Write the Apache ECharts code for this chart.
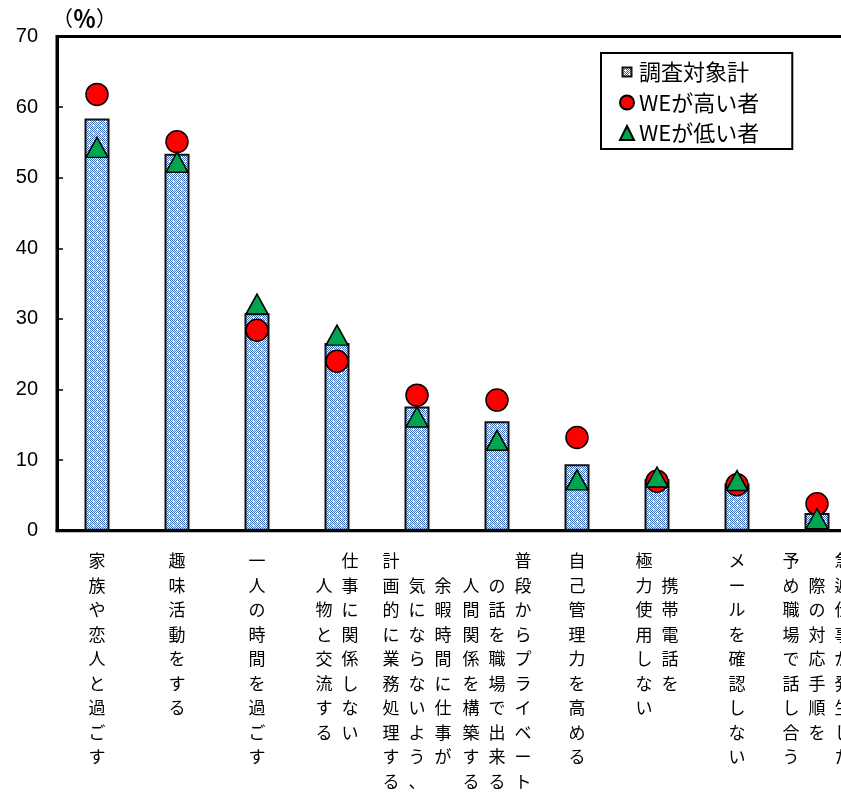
<!DOCTYPE html>
<html><head><meta charset="utf-8">
<script src="https://cdn.jsdelivr.net/npm/echarts@6/dist/echarts.min.js"></script>
<style>html,body{margin:0;padding:0;background:#fff}#c{width:841px;height:792px}</style>
</head><body><div id="c"></div>
<script>
// Category labels: columns listed right-to-left (vertical Japanese writing)
const labelColumns = [
  ['家族や恋人と過ごす'],
  ['趣味活動をする'],
  ['一人の時間を過ごす'],
  ['仕事に関係しない', '人物と交流する'],
  ['余暇時間に仕事が', '気にならないよう、', '計画的に業務処理する'],
  ['普段からプライベート', 'の話を職場で出来る', '人間関係を構築する'],
  ['自己管理力を高める'],
  ['携帯電話を', '極力使用しない'],
  ['メールを確認しない'],
  ['急遽仕事が発生した', '際の対応手順を', '予め職場で話し合う']
];
const categories = labelColumns.map(c => c.join(''));
const seriesNames = ['調査対象計', 'WEが高い者', 'WEが低い者'];
const totalValues = [58.4, 53.4, 30.8, 26.6, 17.6, 15.5, 9.4, 7.3, 6.7, 2.5];
const highWEValues = [61.8, 55.1, 28.4, 24.0, 19.2, 18.5, 13.2, 7.0, 6.5, 3.8];
const lowWEValues = [54.3, 52.2, 32.1, 27.7, 16.1, 12.8, 7.2, 7.6, 7.1, 1.7];
const yMin = 0, yMax = 70, yStep = 10;
const yUnitParts = ['（', '％', '）'];

function makePattern() {
  const cv = document.createElement('canvas');
  cv.width = 8; cv.height = 8;
  const ctx = cv.getContext('2d');
  ctx.fillStyle = '#ffffff'; ctx.fillRect(0, 0, 8, 8);
  ctx.fillStyle = '#3f6fbf';
  for (let y = 0; y < 8; y++) for (let x = 0; x < 8; x++) if ((x + y) % 2 === 0) ctx.fillRect(x, y, 1, 1);
  ctx.fillStyle = '#ffffff';
  ctx.fillRect(1, 1, 2, 1);
  ctx.fillRect(5, 5, 2, 1);
  return cv;
}
const pattern = { image: makePattern(), repeat: 'repeat' };

function verticalLabel(value) {
  const idx = categories.indexOf(value);
  const cols = labelColumns[idx].map(s => Array.from(s));
  const maxLen = Math.max(...cols.map(c => c.length));
  const offs = cols.map(c => Math.round((maxLen - c.length) / 2));
  const lines = [];
  for (let r = 0; r < maxLen; r++) {
    let line = '';
    for (let c = cols.length - 1; c >= 0; c--) {
      const ch = cols[c][r - offs[c]];
      line += '{v|' + (ch || '\u3000') + '}';
    }
    lines.push(line);
  }
  return lines.join('\n');
}

const chart = echarts.init(document.getElementById('c'), null, { renderer: 'canvas' });
const jp = 'Noto Sans CJK JP';
chart.setOption({
  animation: false,
  backgroundColor: '#fff',
  grid: { left: 57, top: 36.5, width: 800, height: 494.2, show: true, borderColor: '#000', borderWidth: 3,
          backgroundColor: 'transparent', containLabel: false, outerBoundsMode: 'none' },
  legend: {
    orient: 'vertical', left: 601, top: 53,
    padding: [8, 33, 5, 18], itemGap: 8.5, itemWidth: 14, itemHeight: 14,
    borderColor: '#000', borderWidth: 2, backgroundColor: '#fff',
    textStyle: { fontSize: 22, lineHeight: 22, fontFamily: jp, color: '#000' },
    data: [
      { name: seriesNames[0], icon: 'path://M0,0M14,14M2.5,2.5h9v9h-9z' },
      { name: seriesNames[1], icon: 'circle' },
      { name: seriesNames[2], icon: 'triangle' }
    ]
  },
  xAxis: {
    type: 'category', data: categories,
    axisLine: { lineStyle: { color: '#000', width: 3 } },
    axisTick: { show: false },
    axisLabel: {
      interval: 0, margin: 18, formatter: verticalLabel,
      rich: { v: { width: 26, align: 'center', fontSize: 17, lineHeight: 24.5, fontFamily: jp, color: '#000' } }
    }
  },
  yAxis: {
    type: 'value', min: yMin, max: yMax, interval: yStep,
    name: '{p|' + yUnitParts[0] + '}{b|' + yUnitParts[1] + '}{p|' + yUnitParts[2] + '}',
    nameLocation: 'end', nameGap: 7,
    nameTextStyle: {
      align: 'left', verticalAlign: 'bottom', padding: [0, 0, 0, -5],
      rich: {
        p: { fontSize: 21, fontFamily: jp, color: '#000' },
        b: { fontSize: 23, fontFamily: jp, color: '#000', fontWeight: 'bold' }
      }
    },
    axisLine: { show: true, lineStyle: { color: '#000', width: 3 } },
    axisTick: { show: true, inside: true, length: 6, lineStyle: { color: '#000', width: 1.5 } },
    axisLabel: { margin: 19, fontSize: 20, fontFamily: 'Liberation Sans', color: '#000' },
    splitLine: { show: false }
  },
  series: [
    { name: seriesNames[0], type: 'bar', data: totalValues, barWidth: 25,
      itemStyle: { color: pattern, borderColor: '#111', borderWidth: 2 } },
    { name: seriesNames[1], type: 'scatter', data: highWEValues, symbol: 'circle', symbolSize: 22, z: 3,
      itemStyle: { color: '#ff0000', borderColor: '#000', borderWidth: 1.5, opacity: 1 } },
    { name: seriesNames[2], type: 'scatter', data: lowWEValues, symbol: 'triangle', symbolSize: [22, 20], z: 4,
      itemStyle: { color: '#00a550', borderColor: '#000', borderWidth: 1.5, opacity: 1 } }
  ]
});
</script></body></html>
